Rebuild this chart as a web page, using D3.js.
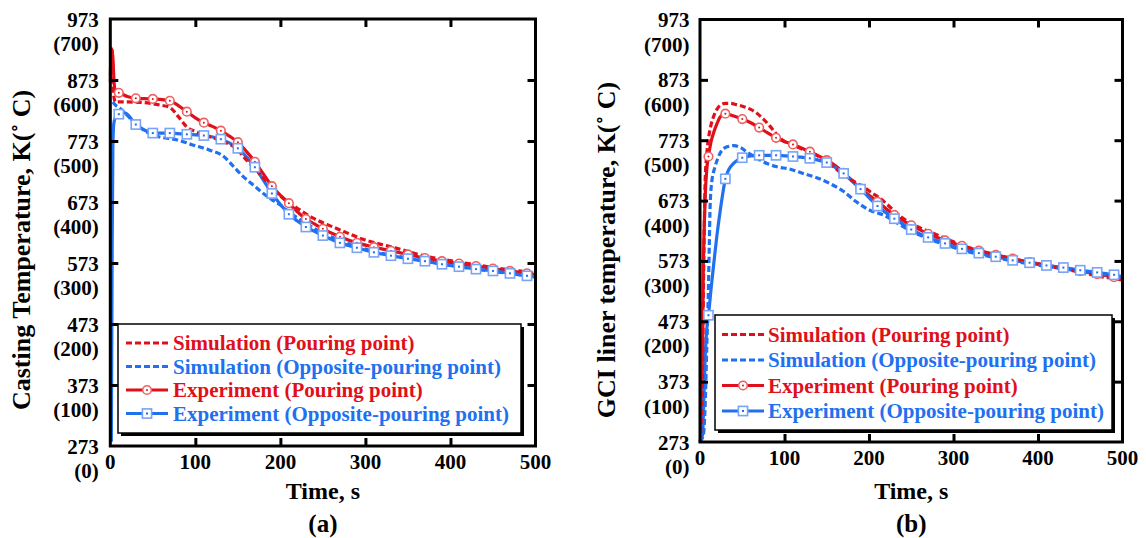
<!DOCTYPE html>
<html><head><meta charset="utf-8">
<script src="https://cdn.jsdelivr.net/npm/d3@7"></script>
<style>
body{margin:0;background:#fff}
text{font-family:"Liberation Serif","Times New Roman",serif;font-weight:bold}
</style>
</head><body>
<svg id="c" width="1146" height="538"></svg>
<script>
// ---------- data ----------
const timeTicks = [0, 100, 200, 300, 400, 500];
const kelvinTicks = [273, 373, 473, 573, 673, 773, 873, 973];
const celsiusLabels = ["(0)", "(100)", "(200)", "(300)", "(400)", "(500)", "(600)", "(700)"];
const markerTimes = [10,30,50,70,90,110,130,150,170,190,210,230,250,270,290,310,330,350,370,390,410,430,450,470,490];
const legendLabels = ["Simulation (Pouring point)", "Simulation (Opposite-pouring point)", "Experiment (Pouring point)", "Experiment (Opposite-pouring point)"];

// Panel (a): casting temperature [time s, K]
const simPourA = [[0,870],[1,905],[2,925],[3,885],[4,848],[6,837],[19,837],[39,836],[58,832],[70,828],[80,813],[90,796],[101,788],[117,780],[133,772],[148,761],[160,742],[170,728],[180,712],[190,697],[200,683],[212,670],[223,660],[238,647],[262,632],[279,622],[297,612],[317,604],[337,597],[368,585],[403,576],[430,570],[458,564],[481,560],[500,556]];
const simOppA = [[3,837],[6,832],[11,827],[20,815],[27,805],[39,791],[57,780],[78,775],[96,767],[117,758],[133,748],[145,731],[156,715],[168,701],[180,687],[190,677],[200,668],[210,657],[220,647],[230,638],[250,622],[270,610],[290,600],[310,592],[330,586],[350,581],[370,576],[390,571],[410,567],[430,563],[450,559],[470,556],[490,552],[500,550]];
const expPourA = [[0,880],[1.5,925],[3,910],[4.5,868],[6,853],[10,852],[20,846],[30,843],[50,842],[70,839],[80,831],[90,821],[100,811],[110,803],[120,797],[130,790],[140,781],[150,771],[160,756],[170,739],[180,719],[190,699],[200,684],[210,671],[220,657],[230,645],[240,637],[250,629],[270,616],[290,606],[310,599],[330,593],[350,587],[370,581],[390,576],[410,572],[430,568],[450,564],[470,560],[490,556],[500,554]];
const expOppA = [[1.2,280],[1.6,400],[2.2,600],[3,760],[4,800],[6,812],[10,817],[17,819],[30,800],[40,791],[50,786],[70,786],[90,784],[110,782],[130,776],[140,770],[150,761],[160,747],[170,730],[180,709],[190,687],[200,669],[210,653],[220,642],[230,632],[240,625],[250,618],[270,606],[290,598],[310,590.5],[330,585],[350,580],[370,576],[390,571],[410,567],[430,563],[450,560],[470,556],[490,552],[500,550]];

// Panel (b): GCI liner temperature [time s, K]
const simPourB = [[0,273],[2,290],[3,380],[4,520],[5,620],[6,700],[8,750],[10,775],[13,798],[16,812],[20,824],[24,831],[30,834],[36,834],[43,832],[51,829],[60,824],[67,818],[75,808],[83,796],[90,784],[95,776],[105,767],[118,760],[128,754],[138,748],[148,739],[158,729],[166,720],[174,712],[184,703],[193,696],[203,686],[213,677],[225,662],[237,647],[257,630],[276,619],[296,607],[316,596],[336,588],[355,581],[375,575],[395,569],[414,564],[434,559],[454,553],[474,547],[493,543],[500,541]];
const simOppB = [[0,273],[4,285],[6,330],[8,430],[10,530],[11,600],[12,665],[14,705],[16,720],[18,730],[24,752],[32,762],[40,764],[48,761],[55,754],[63,747],[71,740],[80,734],[91,729],[107,725],[122,718],[138,711],[154,701],[170,688],[185,671],[201,657],[217,649],[233,636],[250,622],[270,610],[290,600],[310,591],[330,584],[350,578],[370,573],[390,568],[410,564],[430,560],[450,556],[470,552],[490,548],[500,546]];
const expPourB = [[0,273],[1.5,285],[2.5,350],[3.2,450],[4,565],[5,630],[6,675],[8,725],[10,746],[13,770],[16,785],[20,800],[24,812],[30,817],[40,813],[50,808],[60,802],[70,794],[80,785],[90,777],[100,771],[110,766],[120,760],[130,754],[140,747],[150,740],[160,731],[170,719],[180,706],[190,693],[200,682],[210,671],[220,660],[230,649],[240,640],[250,632],[270,618],[290,607],[310,598],[330,590],[350,583],[370,577],[390,571],[410,566],[430,561],[450,556],[470,551],[490,546],[500,543]];
const expOppB = [[0,273],[3,285],[4.5,340],[6,410],[8,460],[10,483],[13,525],[16,565],[20,615],[24,657],[27,685],[30,709],[34,724],[40,735],[50,744],[60,747],[70,748],[90,748],[110,746],[130,743],[140,740],[150,736],[160,728],[170,718],[180,705],[190,692],[200,678],[210,664],[220,653],[230,643],[240,634],[250,625],[270,612],[290,602],[310,593],[330,586],[350,580],[370,574],[390,570],[410,565.5],[430,562],[450,557.6],[470,554],[490,550],[500,547]];

// ---------- drawing ----------
const RED = "#e0101a", BLUE = "#2070f0", RED_M = "#ef6060", BLUE_M = "#78a4f6";
const svg = d3.select("#c");

function drawMarker(g, kind, x, y) {
  if (kind === "circle") {
    g.append("circle").attr("cx", x).attr("cy", y).attr("r", 4.3)
      .attr("fill", "#fff").attr("stroke", RED_M).attr("stroke-width", 1.6);
    g.append("circle").attr("cx", x).attr("cy", y).attr("r", 1).attr("fill", RED);
  } else {
    g.append("rect").attr("x", x - 4.6).attr("y", y - 4.6).attr("width", 9.2).attr("height", 9.2)
      .attr("fill", "#fff").attr("stroke", BLUE_M).attr("stroke-width", 1.6);
    g.append("rect").attr("x", x - 1).attr("y", y - 1).attr("width", 2).attr("height", 2).attr("fill", BLUE);
  }
}

function panel(cfg) {
  const x = d3.scaleLinear().domain([0, 500]).range([cfg.x0, cfg.x1]);
  const y = d3.scaleLinear().domain([273, 973]).range([cfg.yB, cfg.yT]);
  const g = svg.append("g");

  const line = d3.line().x(d => x(d[0])).y(d => y(d[1])).curve(d3.curveMonotoneX);
  const series = [
    {data: cfg.expPour, color: RED, dash: null},
    {data: cfg.expOpp, color: BLUE, dash: null},
    {data: cfg.simPour, color: RED, dash: "6,3"},
    {data: cfg.simOpp, color: BLUE, dash: "6,3"}
  ];
  series.forEach(s => {
    g.append("path").datum(s.data).attr("d", line).attr("fill", "none")
      .attr("stroke", s.color).attr("stroke-width", 3.2)
      .attr("stroke-dasharray", s.dash).attr("stroke-linejoin", "round");
  });
  const mg = g.append("g");
  cfg.expPour.filter(d => markerTimes.includes(d[0])).forEach(d => drawMarker(mg, "circle", x(d[0]), y(d[1])));
  cfg.expOpp.filter(d => markerTimes.includes(d[0])).forEach(d => drawMarker(mg, "square", x(d[0]), y(d[1])));

  // frame & inward ticks
  const inner = kelvinTicks.slice(1, -1), innerT = timeTicks.slice(1, -1);
  g.append("g").attr("transform", `translate(${cfg.x0},0)`)
    .call(d3.axisLeft(y).tickValues(inner).tickSize(-8).tickFormat(""));
  g.append("g").attr("transform", `translate(${cfg.x1},0)`)
    .call(d3.axisRight(y).tickValues(inner).tickSize(-8).tickFormat(""));
  g.append("g").attr("transform", `translate(0,${cfg.yB})`)
    .call(d3.axisBottom(x).tickValues(innerT).tickSize(-8).tickFormat(""));
  g.append("g").attr("transform", `translate(0,${cfg.yT})`)
    .call(d3.axisTop(x).tickValues(innerT).tickSize(-8).tickFormat(""));
  g.selectAll(".domain").remove();
  g.selectAll(".tick line").attr("stroke", "#000").attr("stroke-width", 3);
  g.append("rect").attr("x", cfg.x0).attr("y", cfg.yT).attr("width", cfg.x1 - cfg.x0).attr("height", cfg.yB - cfg.yT)
    .attr("fill", "none").attr("stroke", "#000").attr("stroke-width", 3);

  // tick labels
  const yl = g.append("g").attr("font-size", 21).attr("text-anchor", "end");
  kelvinTicks.forEach((k, i) => {
    yl.append("text").attr("x", cfg.labelX).attr("y", y(k) + 7.5).text(k);
    yl.append("text").attr("x", cfg.labelX).attr("y", y(k) + 32).text(celsiusLabels[i]);
  });
  const xl = g.append("g").attr("font-size", 21).attr("text-anchor", "middle");
  timeTicks.forEach(t => xl.append("text").attr("x", x(t)).attr("y", cfg.yB + 23).text(t));

  // titles
  const cx = (cfg.x0 + cfg.x1) / 2;
  g.append("text").attr("x", cx).attr("y", 499).attr("text-anchor", "middle").attr("font-size", 24).text("Time, s");
  g.append("text").attr("x", cx).attr("y", 532).attr("text-anchor", "middle").attr("font-size", 25).text(cfg.tag);
  g.append("text").attr("transform", `translate(${cfg.titleX},250) rotate(-90)`)
    .attr("text-anchor", "middle").attr("font-size", 26).text(cfg.yTitle);

  // legend
  const L = cfg.legend;
  const lg = g.append("g");
  lg.append("rect").attr("x", L.x + 3).attr("y", L.y + 3).attr("width", L.w).attr("height", L.h).attr("fill", "#000");
  lg.append("rect").attr("x", L.x).attr("y", L.y).attr("width", L.w).attr("height", L.h)
    .attr("fill", "#fff").attr("stroke", "#000").attr("stroke-width", 1.5);
  const kinds = [
    {color: RED, dash: "6,3", m: null},
    {color: BLUE, dash: "6,3", m: null},
    {color: RED, dash: null, m: "circle"},
    {color: BLUE, dash: null, m: "square"}
  ];
  kinds.forEach((k, i) => {
    const by = L.base + i * L.step, ly = by - 7;
    lg.append("line").attr("x1", L.s0).attr("x2", L.s1).attr("y1", ly).attr("y2", ly)
      .attr("stroke", k.color).attr("stroke-width", 3.2).attr("stroke-dasharray", k.dash);
    if (k.m) drawMarker(lg, k.m, (L.s0 + L.s1) / 2, ly);
    lg.append("text").attr("x", L.tx).attr("y", by).attr("font-size", 21).attr("fill", k.color).text(legendLabels[i]);
  });
}

panel({x0: 110.3, x1: 535.5, yT: 19, yB: 446, labelX: 98.7, titleX: 30,
  yTitle: "Casting Temperature, K(˚ C)", tag: "(a)",
  simPour: simPourA, simOpp: simOppA, expPour: expPourA, expOpp: expOppA,
  legend: {x: 118, y: 324, w: 403, h: 109, s0: 126, s1: 168, tx: 173, base: 350, step: 23.5}});
panel({x0: 700, x1: 1122.5, yT: 19.5, yB: 442, labelX: 689.5, titleX: 615,
  yTitle: "GCI liner temperature, K(˚ C)", tag: "(b)",
  simPour: simPourB, simOpp: simOppB, expPour: expPourB, expOpp: expOppB,
  legend: {x: 715, y: 315, w: 397, h: 115, s0: 722, s1: 764, tx: 768, base: 341.5, step: 25.5}});
</script>
</body></html>
